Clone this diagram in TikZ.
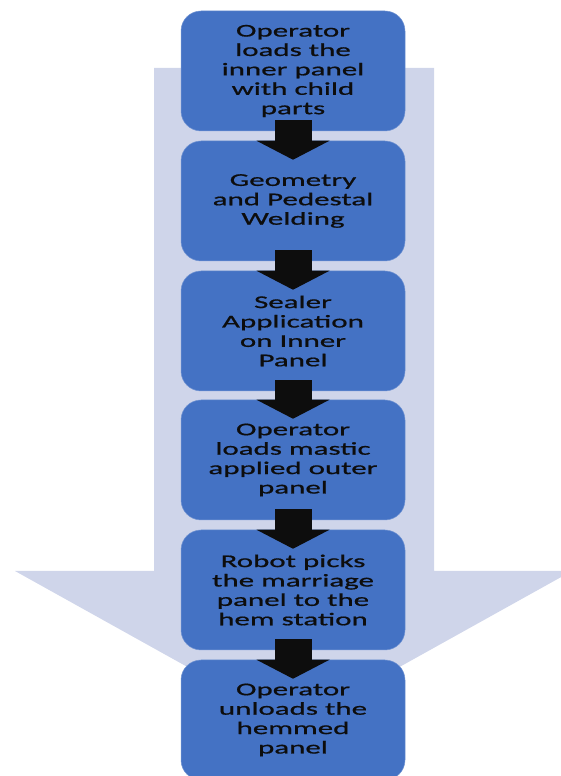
\documentclass[tikz,border=0pt]{standalone}
\usepackage{fontspec}
\setmainfont{Carlito}[FakeStretch=1.72,FakeBold=0.8]
\usetikzlibrary{calc}

\definecolor{boxblue}{HTML}{4472C4}
\definecolor{bgarrow}{HTML}{CFD5EA}
\definecolor{darkarrow}{HTML}{0D0D0D}

\tikzset{
    stepbox/.style={rectangle, rounded corners=20pt, fill=boxblue, draw=boxblue!75!white,
        line width=0.5pt, minimum width=224pt, minimum height=120pt,
        align=center, font=\fontsize{18}{19.4}\selectfont, text=black!95},
}

\begin{document}
\begin{tikzpicture}[x=1pt,y=1pt]

\useasboundingbox (0,0) rectangle (561,776);

% Background arrow
\fill[bgarrow] (154,708) -- (434,708) -- (434,205) -- (572,205)
    -- (293.5,50) -- (15,205) -- (154,205) -- cycle;

% Steps
\node[stepbox] (load)   at (293,705) {Operator\\loads the\\inner panel\\with child\\parts};
\node[stepbox] (weld)   at (293,575) {Geometry\\and Pedestal\\Welding};
\node[stepbox] (seal)   at (293,445) {Sealer\\Application\\on Inner\\Panel};
\node[stepbox] (outer)  at (293,316) {Operator\\loads mastic\\applied outer\\panel};
\node[stepbox] (robot)  at (293,186) {Robot picks\\the marriage\\panel to the\\hem station};
\node[stepbox] (unload) at (293,56)  {Operator\\unloads the\\hemmed\\panel};

% Arrows between steps
\foreach \a/\b in {load/weld, weld/seal, seal/outer, outer/robot, robot/unload}{
    \fill[darkarrow] ($(\b.north)+(-18.5,0)$) rectangle ($(\a.south)+(18.5,11)$);
    \fill[darkarrow] ($(\b.north)+(-36.5,0)$) -- ($(\b.north)+(36.5,0)$)
        -- ($(\b.north)+(0,-19)$) -- cycle;
}

\end{tikzpicture}
\end{document}
